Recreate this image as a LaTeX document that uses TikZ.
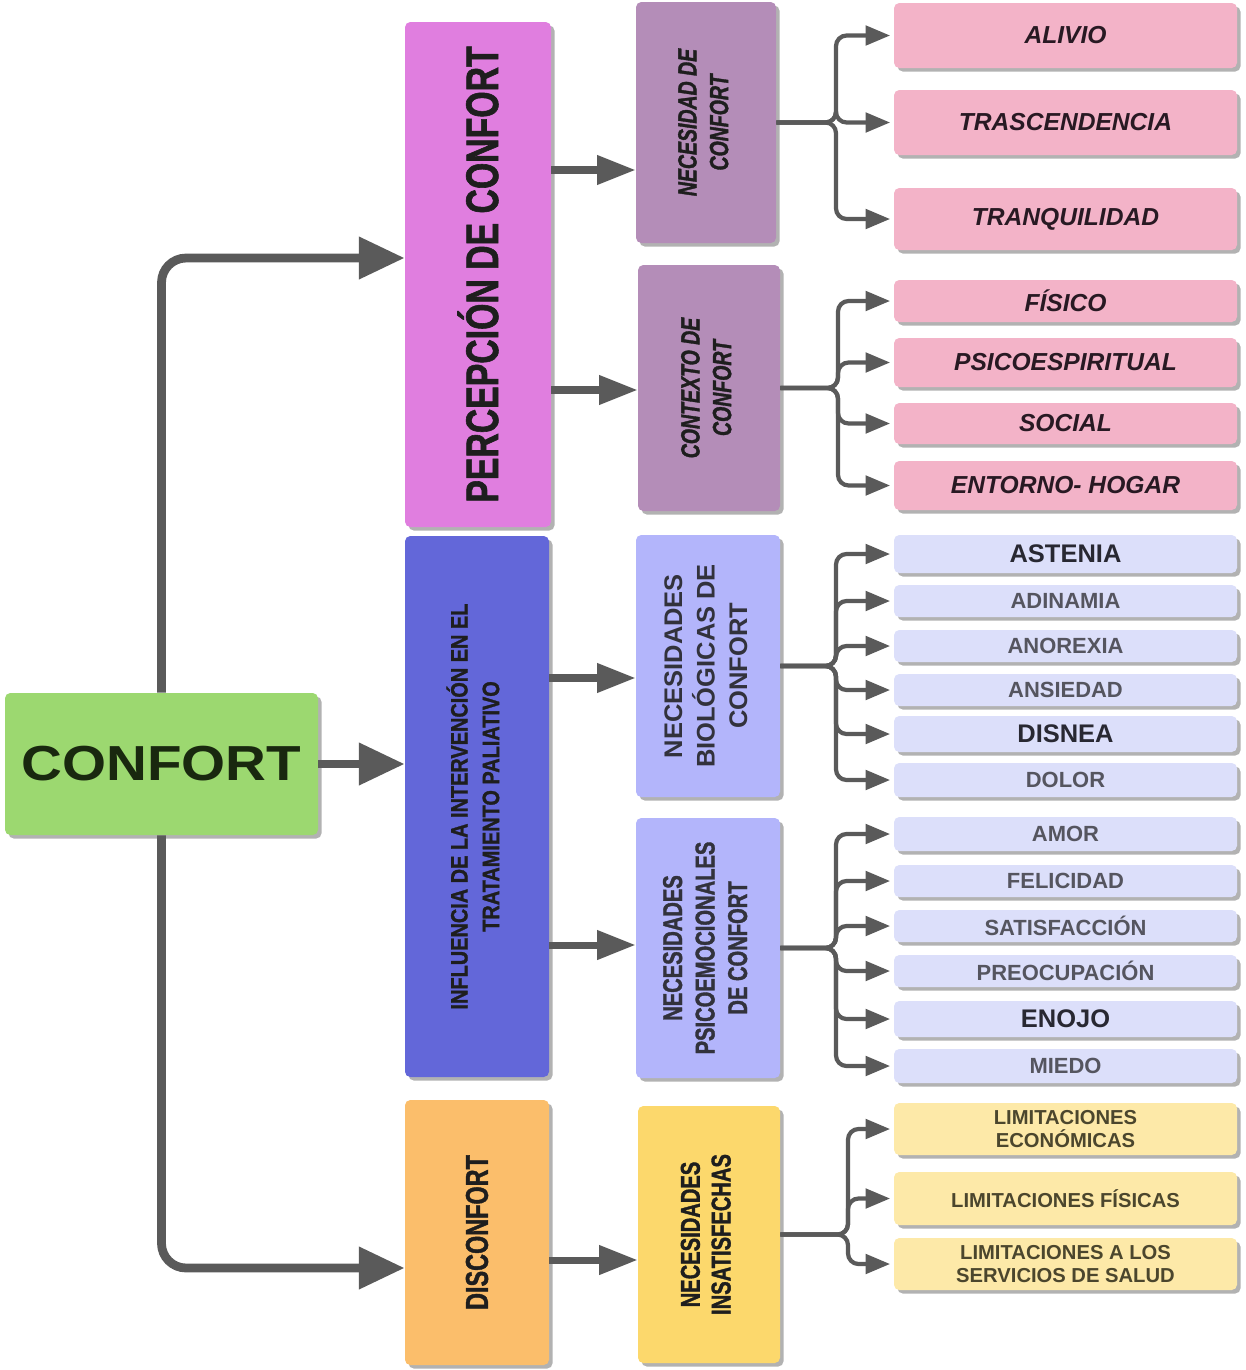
\documentclass[tikz,border=0pt]{standalone}
\usepackage{fontspec}
\setmainfont{Liberation Sans}
\newfontfamily\narrowf[FakeStretch=0.74,FakeBold=1.3]{Liberation Sans Bold}
\newfontfamily\narrowi[FakeStretch=0.74,FakeBold=1.3]{Liberation Sans Bold Italic}
\newfontfamily\midf[FakeStretch=0.84,FakeBold=1.2]{Liberation Sans Bold}
\newfontfamily\widef[FakeStretch=1.15]{Liberation Sans Bold}
\usetikzlibrary{arrows.meta,shadows}
\definecolor{cgreen}{RGB}{156,216,112}
\definecolor{corchid}{RGB}{224,126,223}
\definecolor{cblue}{RGB}{99,103,217}
\definecolor{corange}{RGB}{251,190,107}
\definecolor{cmauve}{RGB}{180,141,184}
\definecolor{cperi}{RGB}{179,181,251}
\definecolor{cyellow}{RGB}{252,216,108}
\definecolor{cpink}{RGB}{243,179,200}
\definecolor{clav}{RGB}{220,223,250}
\definecolor{clyel}{RGB}{253,233,168}
\definecolor{carrow}{RGB}{90,90,90}
\definecolor{ctext}{RGB}{30,30,30}
\newcommand\bx[7]{\node[#6, minimum width={(#4-#2)*0.02cm}, minimum height={(#5-#3)*0.02cm}] (#1) at ({(#2+#4)/2},{(#3+#5)/2}) {#7};}
\newcommand\vtext[2]{\rotatebox{90}{#1\begin{tabular}{@{}c@{}}#2\end{tabular}}}
\tikzset{
  box/.style={inner sep=0pt, rounded corners=3pt, align=center, text=ctext,
    drop shadow={shadow xshift=2pt, shadow yshift=-2pt, fill=black, opacity=0.3}},
  gbox/.style={box, fill=cgreen, text={rgb,255:red,25;green,40;blue,15}},
  obox/.style={box, fill=corchid},
  bbox/.style={box, fill=cblue},
  orbox/.style={box, fill=corange},
  mbox/.style={box, fill=cmauve},
  pbox/.style={box, fill=cperi, text={rgb,255:red,50;green,50;blue,60}},
  ybox/.style={box, fill=cyellow},
  pkbox/.style={box, fill=cpink, font=\bfseries\itshape\fontsize{14}{16}\selectfont, text={rgb,255:red,40;green,25;blue,35}},
  lvbox/.style={box, fill=clav, font=\bfseries\fontsize{12.5}{14}\selectfont, text={rgb,255:red,85;green,85;blue,95}},
  lvdark/.style={lvbox, font=\bfseries\fontsize{14.5}{16}\selectfont, text={rgb,255:red,40;green,40;blue,50}},
  lybox/.style={box, fill=clyel, font=\bfseries\fontsize{11.5}{13}\selectfont, text={rgb,255:red,75;green,70;blue,45}},
  mainarr/.style={draw=carrow, line width=5pt, -{Triangle[length=26pt,width=23pt]}},
  midarr/.style={draw=carrow, line width=4pt, -{Triangle[length=22pt,width=16pt]}},
  brarr/.style={draw=carrow, line width=2.4pt, rounded corners=6pt, -{Triangle[length=14pt,width=11pt]}, shorten >=2pt},
}
\begin{document}
\begin{tikzpicture}[x=0.02cm, y=-0.02cm]
\useasboundingbox (0,0) rectangle (1246,1370);
% level 0
\bx{confort}{5}{693}{318}{835}{gbox}{{\widef\fontsize{28}{30}\selectfont CONFORT}}
% level 1
\bx{percep}{405}{22}{551}{527}{obox}{\rotatebox{90}{\narrowf\fontsize{26}{28}\selectfont PERCEPCIÓN DE CONFORT}}
\bx{influ}{405}{536}{549}{1077}{bbox}{\vtext{\midf\fontsize{13.5}{18}\selectfont}{INFLUENCIA DE LA INTERVENCIÓN EN EL\\TRATAMIENTO PALIATIVO}}
\bx{disc}{405}{1100}{549}{1365}{orbox}{\rotatebox{90}{\narrowf\fontsize{18}{20}\selectfont DISCONFORT}}
% level 2
\bx{nec}{636}{2}{776}{243}{mbox}{\vtext{\narrowi\fontsize{15}{18}\selectfont}{NECESIDAD DE\\CONFORT}}
\bx{ctx}{638}{265}{780}{511}{mbox}{\vtext{\narrowi\fontsize{15}{18}\selectfont}{CONTEXTO DE\\CONFORT}}
\bx{biol}{636}{535}{780}{797}{pbox}{\vtext{\bfseries\fontsize{14.5}{18.5}\selectfont}{NECESIDADES\\BIOLÓGICAS DE\\CONFORT}}
\bx{psico}{636}{818}{780}{1078}{pbox}{\vtext{\narrowf\fontsize{15.5}{18.5}\selectfont}{NECESIDADES\\PSICOEMOCIONALES\\DE CONFORT}}
\bx{insat}{638}{1106}{780}{1363}{ybox}{\vtext{\narrowf\fontsize{15.5}{17.5}\selectfont}{NECESIDADES\\INSATISFECHAS}}
% level 3
\bx{alivio}{894}{3}{1237}{68}{pkbox}{ALIVIO}
\bx{trasc}{894}{90}{1237}{155}{pkbox}{TRASCENDENCIA}
\bx{tranq}{894}{188}{1237}{250}{pkbox}{TRANQUILIDAD}
\bx{fisico}{894}{280}{1237}{322}{pkbox}{FÍSICO}
\bx{psiesp}{894}{338}{1237}{387}{pkbox}{PSICOESPIRITUAL}
\bx{social}{894}{403}{1237}{444}{pkbox}{SOCIAL}
\bx{entorno}{894}{461}{1237}{510}{pkbox}{ENTORNO- HOGAR}
\bx{astenia}{894}{535}{1237}{573}{lvdark}{ASTENIA}
\bx{adinamia}{894}{585}{1237}{617}{lvbox}{ADINAMIA}
\bx{anorexia}{894}{630}{1237}{662}{lvbox}{ANOREXIA}
\bx{ansiedad}{894}{674}{1237}{706}{lvbox}{ANSIEDAD}
\bx{disnea}{894}{716}{1237}{752}{lvdark}{DISNEA}
\bx{dolor}{894}{763}{1237}{797}{lvbox}{DOLOR}
\bx{amor}{894}{817}{1237}{851}{lvbox}{AMOR}
\bx{felicidad}{894}{865}{1237}{897}{lvbox}{FELICIDAD}
\bx{satisf}{894}{910}{1237}{942}{lvbox}{SATISFACCIÓN}
\bx{preoc}{894}{955}{1237}{987}{lvbox}{PREOCUPACIÓN}
\bx{enojo}{894}{1001}{1237}{1037}{lvdark}{ENOJO}
\bx{miedo}{894}{1049}{1237}{1083}{lvbox}{MIEDO}
\bx{lecon}{894}{1103}{1237}{1155}{lybox}{LIMITACIONES\\ECONÓMICAS}
\bx{lfis}{894}{1172}{1237}{1225}{lybox}{LIMITACIONES FÍSICAS}
\bx{lserv}{894}{1238}{1237}{1290}{lybox}{LIMITACIONES A LOS\\SERVICIOS DE SALUD}
% main connectors
\draw[mainarr, rounded corners=14pt] (confort.north) |- (percep.west |- 0,258);
\draw[mainarr] (confort.east) -- (influ.west |- confort.east);
\draw[mainarr, rounded corners=14pt] (confort.south) |- (disc.west |- 0,1268);
% second level
\draw[midarr] (percep.east |- 0,170) -- (nec.west |- 0,170);
\draw[midarr] (percep.east |- 0,390) -- (ctx.west |- 0,390);
\draw[midarr] (influ.east |- 0,678) -- (biol.west |- 0,678);
\draw[midarr] (influ.east |- 0,945) -- (psico.west |- 0,945);
\draw[midarr] (disc.east |- 0,1260) -- (insat.west |- 0,1260);
% bracket columns
\coordinate (k1) at (836,0);
\coordinate (k2) at (838,0);
\coordinate (k3) at (836,0);
\coordinate (k4) at (836,0);
\coordinate (k5) at (848,0);
\foreach \c in {alivio,trasc,tranq}{\draw[brarr] (nec.east) -| (k1 |- \c.west) -- (\c.west);}
\foreach \c in {fisico,psiesp,social,entorno}{\draw[brarr] (ctx.east) -| (k2 |- \c.west) -- (\c.west);}
\foreach \c in {astenia,adinamia,anorexia,ansiedad,disnea,dolor}{\draw[brarr] (biol.east) -| (k3 |- \c.west) -- (\c.west);}
\foreach \c in {amor,felicidad,satisf,preoc,enojo,miedo}{\draw[brarr] (psico.east) -| (k4 |- \c.west) -- (\c.west);}
\foreach \c in {lecon,lfis,lserv}{\draw[brarr] (insat.east) -| (k5 |- \c.west) -- (\c.west);}
\end{tikzpicture}
\end{document}
